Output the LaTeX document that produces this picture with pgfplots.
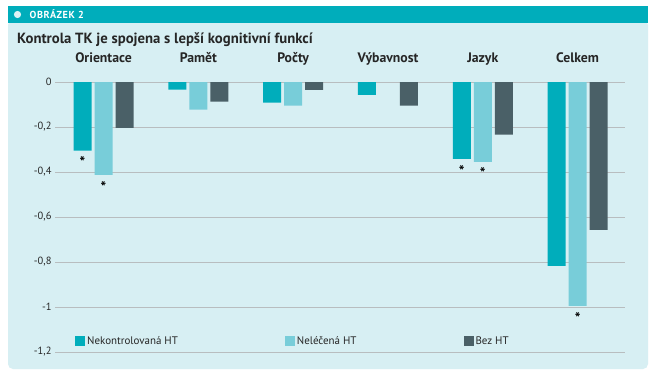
\documentclass[border=0pt]{standalone}
\usepackage{pgfplots}
\pgfplotsset{compat=1.18}
\usepackage{fontspec}
\setmainfont{PT Sans}
\definecolor{cA}{HTML}{00ADBB}
\definecolor{cB}{HTML}{78CDD9}
\definecolor{cC}{HTML}{4A6067}
\definecolor{bgblue}{HTML}{D7EFF3}
\definecolor{hdr}{HTML}{00ADBB}
\definecolor{gridc}{HTML}{B8BDBF}
\begin{document}
\begin{tikzpicture}
\fill[white] (0,0) rectangle (655bp,-382bp);
\fill[bgblue, rounded corners=5bp] (8bp,-20bp) rectangle (648bp,-369bp);
\fill[hdr] (8bp,-6bp) rectangle (648bp,-23bp);
\fill[bgblue!80!white] (17.5bp,-14.5bp) circle (3.6bp);
\node[anchor=west, inner sep=0pt, text=white, font=\bfseries\fontsize{10.2}{12}\selectfont\addfontfeature{LetterSpace=6}] at (29.5bp,-14.5bp) {OBRÁZEK 2};
\node[anchor=base west, inner sep=0pt, font=\bfseries\fontsize{14.8}{16}\selectfont, text=black!85] at (17bp,-43.5bp) {Kontrola TK je spojena s lepší kognitivní funkcí};
\begin{axis}[
  at={(55bp,-352bp)}, anchor=south west,
  scale only axis, width=570bp, height=270bp,
  xmin=-0.512, xmax=5.5, ymin=-1.2, ymax=0,
  axis line style={draw=none},
  tick style={draw=none},
  ymajorgrids, grid style={gridc, line width=0.9bp},
  xtick={0,1,2,3,4,5},
  xticklabels={Orientace,Pamět,Počty,Výbavnost,Jazyk,Celkem},
  xticklabel pos=upper,
  xticklabel style={anchor=base, yshift=15bp, font=\bfseries\fontsize{13.8}{15}\selectfont, text=black!85},
  ytick={-1.2,-1,-0.8,-0.6,-0.4,-0.2,0},
  yticklabels={{-1,2},{-1},{-0,8},{-0,6},{-0,4},{-0,2},{0}},
  yticklabel style={font=\fontsize{10.5}{12}\selectfont, text=black!85},
  ybar, bar width=18bp,
  point meta=explicit symbolic,
  nodes near coords,
  every node near coord/.append style={anchor=north, inner sep=0pt, yshift=-6bp, font=\bfseries\fontsize{15}{16}\selectfont},
  legend columns=3,
  legend style={draw=none, fill=none, inner sep=0pt, at={(axis description cs:0.0351,0.0407)}, anchor=west,
    font=\fontsize{11}{13}\selectfont, text=black!85,
    /tikz/every even column/.append style={column sep=105bp}},
  legend image code/.code={\fill[#1] (0bp,-5bp) rectangle (10bp,5bp);},
]
\addplot[fill=cA, draw=none, bar shift=-21bp] coordinates {
(0,-0.305) [*] (1,-0.034) [{}] (2,-0.092) [{}] (3,-0.057) [{}] (4,-0.342) [*] (5,-0.817) [{}]};
\addplot[fill=cB, draw=none, bar shift=0bp] coordinates {
(0,-0.413) [*] (1,-0.123) [{}] (2,-0.105) [{}] (4,-0.355) [*] (5,-0.995) [*]};
\addplot[fill=cC, draw=none, bar shift=21bp] coordinates {
(0,-0.204) [{}] (1,-0.087) [{}] (2,-0.035) [{}] (3,-0.105) [{}] (4,-0.234) [{}] (5,-0.657) [{}]};
\legend{Nekontrolovaná HT, Neléčená HT, Bez HT}
\end{axis}
\pgfresetboundingbox
\useasboundingbox (0,0) rectangle (655bp,-382bp);
\end{tikzpicture}
\end{document}
